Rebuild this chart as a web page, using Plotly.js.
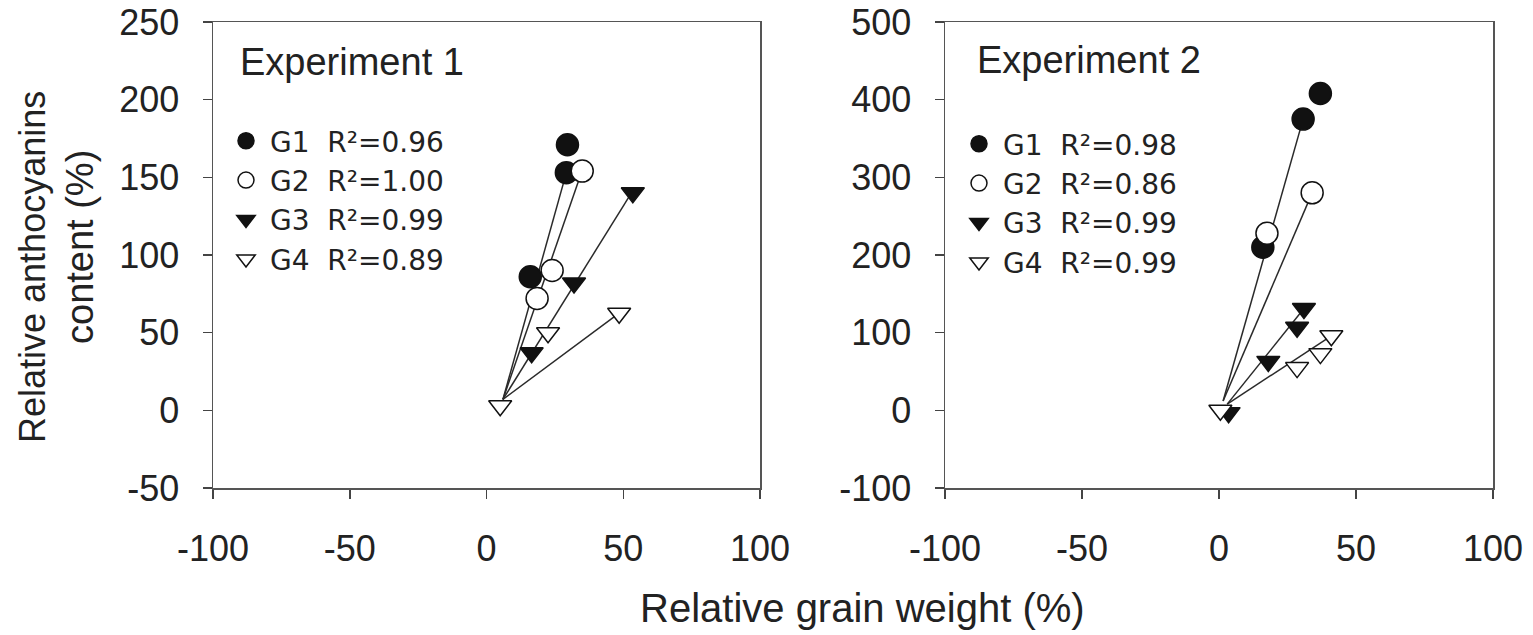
<!DOCTYPE html>
<html>
<head>
<meta charset="utf-8">
<script src="https://cdn.plot.ly/plotly-3.0.1.min.js"></script>
<style>
html,body{margin:0;padding:0;background:#fff;}
#chart{width:1533px;height:635px;}
</style>
</head>
<body>
<div id="chart"></div>
<script>
// ---------- Data ----------
// Experiment 1
const e1_G1_x = [16, 29.2, 29.6];
const e1_G1_y = [86, 153, 171];
const e1_G2_x = [18.5, 24, 35];
const e1_G2_y = [72, 90, 154];
const e1_G3_x = [16.5, 32, 53.5];
const e1_G3_y = [37, 82, 140];
const e1_G4_x = [5, 22.5, 48.5];
const e1_G4_y = [3, 50, 62.5];
// fitted lines (start, end) Experiment 1
const e1_fit_G1_x = [6, 29.2];  const e1_fit_G1_y = [7, 153];
const e1_fit_G2_x = [6, 34.5];  const e1_fit_G2_y = [7, 152];
const e1_fit_G3_x = [6, 53];    const e1_fit_G3_y = [7, 140];
const e1_fit_G4_x = [6, 48];    const e1_fit_G4_y = [7, 62];

// Experiment 2
const e2_G1_x = [16, 30.7, 37];
const e2_G1_y = [210, 375, 408];
const e2_G2_x = [17.5, 34];
const e2_G2_y = [228, 280];
const e2_G3_x = [3.5, 18, 28.5, 31];
const e2_G3_y = [-3, 63, 107, 131];
const e2_G4_x = [0.5, 28.5, 37, 41];
const e2_G4_y = [0, 55, 73, 96];
// fitted lines (start, end) Experiment 2
const e2_fit_G1_x = [1.5, 30.7]; const e2_fit_G1_y = [12, 375];
const e2_fit_G2_x = [1.5, 34];   const e2_fit_G2_y = [12, 280];
const e2_fit_G3_x = [3, 31];     const e2_fit_G3_y = [8, 131];
const e2_fit_G4_x = [3, 41];     const e2_fit_G4_y = [8, 96];

const SP = '\u00A0\u00A0';
const groupNames1 = ['G1' + SP + 'R\u00B2=0.96', 'G2' + SP + 'R\u00B2=1.00', 'G3' + SP + 'R\u00B2=0.99', 'G4' + SP + 'R\u00B2=0.89'];
const groupNames2 = ['G1' + SP + 'R\u00B2=0.98', 'G2' + SP + 'R\u00B2=0.86', 'G3' + SP + 'R\u00B2=0.99', 'G4' + SP + 'R\u00B2=0.99'];

const xTickVals = [-100, -50, 0, 50, 100];
const xTickText = ['-100', '-50', '0', '50', '100'];
const y1TickVals = [-50, 0, 50, 100, 150, 200, 250];
const y1TickText = ['-50', '0', '50', '100', '150', '200', '250'];
const y2TickVals = [-100, 0, 100, 200, 300, 400, 500];
const y2TickText = ['-100', '0', '100', '200', '300', '400', '500'];

// ---------- Styles ----------
const FONT = 'Liberation Sans, Arial, sans-serif';
const LEGFONT = 'DejaVu Sans, Liberation Sans, sans-serif';
const TXT = '#222';
const symbols = ['circle', 'circle', 'triangle-down', 'triangle-down'];
const fills = ['#111', '#fff', '#111', '#fff'];
const sizes = [22, 22, 20, 20];

function fitTrace(x, y, xa, ya) {
  return {x: x, y: y, xaxis: xa, yaxis: ya, mode: 'lines', type: 'scatter',
    line: {color: '#2a2a2a', width: 1.5}, showlegend: false, hoverinfo: 'skip'};
}
function ptTrace(x, y, i, name, xa, ya, leg) {
  return {x: x, y: y, xaxis: xa, yaxis: ya, mode: 'markers', type: 'scatter', name: name,
    legend: leg,
    marker: {symbol: symbols[i], size: sizes[i], color: fills[i], line: {color: '#111', width: 1.5}}};
}

const e1x = [e1_G1_x, e1_G2_x, e1_G3_x, e1_G4_x];
const e1y = [e1_G1_y, e1_G2_y, e1_G3_y, e1_G4_y];
const e2x = [e2_G1_x, e2_G2_x, e2_G3_x, e2_G4_x];
const e2y = [e2_G1_y, e2_G2_y, e2_G3_y, e2_G4_y];
const f1x = [e1_fit_G1_x, e1_fit_G2_x, e1_fit_G3_x, e1_fit_G4_x];
const f1y = [e1_fit_G1_y, e1_fit_G2_y, e1_fit_G3_y, e1_fit_G4_y];
const f2x = [e2_fit_G1_x, e2_fit_G2_x, e2_fit_G3_x, e2_fit_G4_x];
const f2y = [e2_fit_G1_y, e2_fit_G2_y, e2_fit_G3_y, e2_fit_G4_y];

const traces = [];
for (let i = 0; i < 4; i++) traces.push(fitTrace(f1x[i], f1y[i], 'x', 'y'));
for (let i = 0; i < 4; i++) traces.push(fitTrace(f2x[i], f2y[i], 'x2', 'y2'));
for (let i = 0; i < 4; i++) traces.push(ptTrace(e1x[i], e1y[i], i, groupNames1[i], 'x', 'y', 'legend'));
for (let i = 0; i < 4; i++) traces.push(ptTrace(e2x[i], e2y[i], i, groupNames2[i], 'x2', 'y2', 'legend2'));

const W = 1533, H = 635, T = 22, PH = 466;
const py = p => 1 - (p - T) / PH;   // pixel row -> paper y
const px = p => p / W;              // pixel col -> paper x

function axisCommon(extra) {
  return Object.assign({
    showline: true, mirror: true, linecolor: '#555', linewidth: 1.5,
    ticks: 'outside', ticklen: 9, tickwidth: 1.5, tickcolor: '#444',
    showgrid: false, zeroline: false, fixedrange: true,
    tickfont: {family: FONT, size: 36, color: TXT}
  }, extra);
}

const legendCommon = {
  font: {family: LEGFONT, size: 28, color: TXT},
  bgcolor: 'rgba(0,0,0,0)', borderwidth: 0,
  xanchor: 'left', yanchor: 'top', traceorder: 'normal',
  itemwidth: 38, itemclick: false, itemdoubleclick: false
};

const layout = {
  width: W, height: H,
  margin: {l: 0, r: 0, t: T, b: H - T - PH},
  paper_bgcolor: '#fff', plot_bgcolor: '#fff',
  font: {family: FONT, color: TXT},
  xaxis: axisCommon({domain: [px(213), px(760)], range: [-100, 100], tickvals: xTickVals, ticktext: xTickText, anchor: 'y', ticklabelstandoff: 19}),
  yaxis: axisCommon({domain: [0, 1], range: [-50, 250], tickvals: y1TickVals, ticktext: y1TickText, anchor: 'x', ticklabelstandoff: 16}),
  xaxis2: axisCommon({domain: [px(945), px(1493)], range: [-100, 100], tickvals: xTickVals, ticktext: xTickText, anchor: 'y2', ticklabelstandoff: 19}),
  yaxis2: axisCommon({domain: [0, 1], range: [-100, 500], tickvals: y2TickVals, ticktext: y2TickText, anchor: 'x2', ticklabelstandoff: 16}),
  legend: Object.assign({}, legendCommon, {x: px(222), y: py(116)}),
  legend2: Object.assign({}, legendCommon, {x: px(955), y: py(119)}),
  showlegend: true,
  annotations: [
    {text: 'Experiment 1', xref: 'paper', yref: 'paper', x: px(238), y: py(62),
     xanchor: 'left', yanchor: 'middle', showarrow: false, font: {family: FONT, size: 38, color: TXT}},
    {text: 'Experiment 2', xref: 'paper', yref: 'paper', x: px(975), y: py(60),
     xanchor: 'left', yanchor: 'middle', showarrow: false, font: {family: FONT, size: 38, color: TXT}},
    {text: 'Relative grain weight (%)', xref: 'paper', yref: 'paper', x: px(862), y: py(608),
     xanchor: 'center', yanchor: 'middle', showarrow: false, font: {family: FONT, size: 40, color: TXT}},
    {text: 'Relative anthocyanins', xref: 'paper', yref: 'paper', x: px(32), y: py(267),
     xanchor: 'center', yanchor: 'middle', textangle: -90, showarrow: false, font: {family: FONT, size: 36, color: TXT}},
    {text: 'content (%)', xref: 'paper', yref: 'paper', x: px(80), y: py(247),
     xanchor: 'center', yanchor: 'middle', textangle: -90, showarrow: false, font: {family: FONT, size: 38, color: TXT}}
  ]
};

Plotly.newPlot('chart', traces, layout, {displayModeBar: false, staticPlot: true});
</script>
</body>
</html>
